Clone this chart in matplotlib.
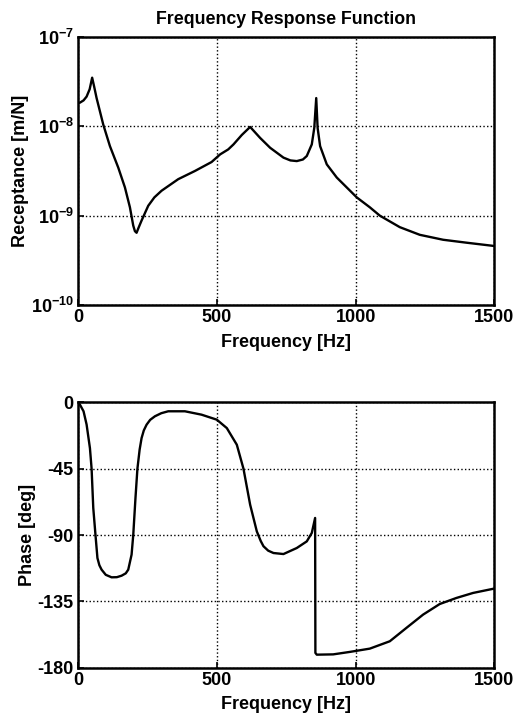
import matplotlib
matplotlib.use("Agg")
import matplotlib.pyplot as plt

# receptance magnitude
freq_mag = [0, 7, 20, 31, 42, 51, 58, 67, 91, 115, 145, 169, 187, 199, 205,
            211, 218, 229, 253, 275, 301, 361, 421, 481, 512, 541, 560, 590,
            620, 656, 692, 740, 765, 788, 810, 824, 842, 851, 858, 863, 872,
            896, 932, 1004, 1051, 1087, 1159, 1231, 1315, 1399, 1500]
receptance = [1.82e-8, 1.84e-8, 1.95e-8, 2.15e-8, 2.6e-8, 3.50e-8, 2.8e-8,
              2.07e-8, 1.045e-8, 6.0e-9, 3.45e-9, 2.07e-9, 1.24e-9, 7.74e-10,
              6.7e-10, 6.43e-10, 7.3e-10, 8.81e-10, 1.29e-9, 1.6e-9, 1.90e-9,
              2.56e-9, 3.16e-9, 3.98e-9, 4.85e-9, 5.51e-9, 6.27e-9, 8.0e-9,
              9.84e-9, 7.41e-9, 5.75e-9, 4.46e-9, 4.15e-9, 4.08e-9, 4.25e-9,
              4.65e-9, 6.27e-9, 9.6e-9, 2.07e-8, 9.6e-9, 6.0e-9, 3.75e-9,
              2.67e-9, 1.6e-9, 1.24e-9, 1.0e-9, 7.43e-10, 6.1e-10, 5.37e-10,
              4.98e-10, 4.57e-10]

# phase
freq_phase = [0, 7, 20, 31, 43, 49, 55, 63, 70, 77, 85, 100, 121, 140, 157,
              172, 181, 193, 199, 207, 214, 222, 229, 237, 247, 260, 277, 300,
              325, 385, 445, 500, 536, 572, 596, 620, 644, 658, 668, 685, 704,
              740, 788, 824, 842, 854, 855, 860, 919, 980, 1051, 1123, 1183,
              1243, 1303, 1363, 1423, 1500]
phase = [0, -1.5, -6, -15, -31, -45, -71.6, -90, -105.6, -110.5, -113.5,
         -117, -118.7, -118.6, -117.6, -116, -113.5, -103.3, -90, -64.9, -45,
         -32, -24.2, -19, -15.1, -11.8, -9.4, -7.3, -6.0, -6.0, -8.3, -11.7,
         -17.4, -28.7, -45, -69.4, -87.5, -94, -97.6, -100.6, -102.2, -102.9,
         -98.8, -94.3, -88.6, -78.4, -170, -171.2, -171, -169.3, -167.1,
         -162.1, -153, -144, -136.8, -132.7, -129.3, -126.3]

plt.rcParams["font.family"] = "Liberation Sans"
plt.rcParams["font.weight"] = "bold"
plt.rcParams["mathtext.default"] = "regular"
plt.rcParams["axes.unicode_minus"] = False

fig = plt.figure(figsize=(5.21, 7.22), dpi=100)

# -----------------------
# Magnitude
# -----------------------
ax1 = fig.add_axes([0.1497, 0.5776, 0.7994, 0.3712])
ax1.semilogy(freq_mag, receptance, color="black", linewidth=1.7,
             solid_joinstyle="round")
ax1.set_xlim(0, 1500)
ax1.set_ylim(1e-10, 1e-7)
ax1.set_xticks([0, 500, 1000, 1500])
ax1.set_yticks([1e-10, 1e-9, 1e-8, 1e-7])
ax1.minorticks_off()
ax1.set_title("Frequency Response Function", fontsize=12.8,
              fontweight="bold", pad=9)
ax1.set_xlabel("Frequency [Hz]", fontsize=13, fontweight="bold", labelpad=6)
ax1.set_ylabel("Receptance [m/N]", fontsize=13, fontweight="bold", labelpad=1)

# -----------------------
# Phase
# -----------------------
ax2 = fig.add_axes([0.1497, 0.0753, 0.7994, 0.3673])
ax2.plot(freq_phase, phase, color="black", linewidth=1.7,
         solid_joinstyle="round")
ax2.set_xlim(0, 1500)
ax2.set_ylim(-180, 0)
ax2.set_xticks([0, 500, 1000, 1500])
ax2.set_yticks([0, -45, -90, -135, -180])
ax2.set_xlabel("Frequency [Hz]", fontsize=13, fontweight="bold", labelpad=5)
ax2.set_ylabel("Phase [deg]", fontsize=13, fontweight="bold", labelpad=1)

for ax in (ax1, ax2):
    ax.grid(True, color="black", linestyle=":", linewidth=1.0)
    ax.tick_params(direction="in", length=4, width=1.2, labelsize=13, pad=3)
    for lab in ax.get_xticklabels() + ax.get_yticklabels():
        lab.set_fontweight("bold")
    for sp in ax.spines.values():
        sp.set_linewidth(1.8)

fig.savefig("out.png", dpi=100)
